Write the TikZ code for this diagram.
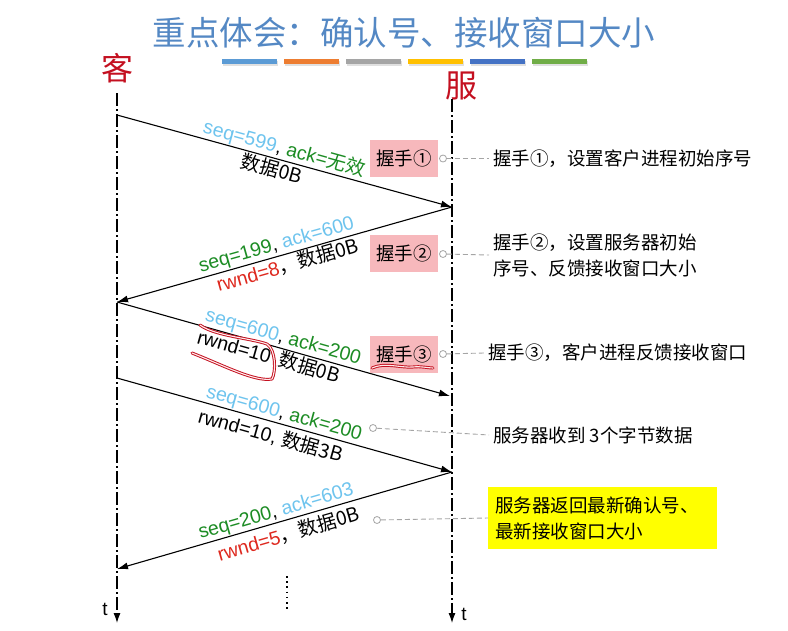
\documentclass[tikz,border=0pt]{standalone}
\usepackage{fontspec}
\setmainfont{Noto Sans CJK SC}
\newfontfamily\lat{Liberation Sans}
\usetikzlibrary{arrows.meta}
\definecolor{titleblue}{RGB}{84,136,196}
\definecolor{seqblue}{RGB}{110,196,238}
\definecolor{ackgreen}{RGB}{28,140,36}
\definecolor{rwndred}{RGB}{222,40,30}
\definecolor{hspink}{RGB}{247,184,188}
\definecolor{hwred}{RGB}{196,16,32}
\definecolor{leadgray}{RGB}{165,165,165}
\definecolor{barA}{RGB}{91,155,213}
\definecolor{barB}{RGB}{237,125,49}
\definecolor{barC}{RGB}{165,165,165}
\definecolor{barD}{RGB}{255,192,0}
\definecolor{barE}{RGB}{68,114,196}
\definecolor{barF}{RGB}{112,173,71}
\definecolor{notey}{RGB}{255,255,0}
\newcommand{\sq}[1]{\textcolor{seqblue}{\lat #1}}
\newcommand{\ak}[1]{\textcolor{ackgreen}{\lat #1}}
\newcommand{\rw}[1]{\textcolor{rwndred}{\lat #1}}
\begin{document}
\begin{tikzpicture}[x=1pt,y=-1pt,
  lifeline/.style={line width=1.1pt, dash pattern=on 13pt off 3pt on 2pt off 3pt, -{Latex[length=10pt,width=7pt]}},
  msg/.style={line width=1.1pt, -{Latex[length=11pt,width=7pt]}},
  lbl/.style={font=\fontsize{19.5}{23}\selectfont, inner sep=1pt, sloped},
  hsbox/.style={fill=hspink, minimum width=68pt, minimum height=37pt, inner sep=0pt, font=\fontsize{18.5}{22}\selectfont},
  circ/.style={circle, draw=leadgray, fill=white, line width=0.8pt, minimum size=7pt, inner sep=0pt},
  leader/.style={draw=leadgray, line width=0.9pt, dash pattern=on 5pt off 3pt},
  side/.style={font=\fontsize{18.5}{26}\selectfont, anchor=west, align=left, inner sep=4pt},
  hand/.style={text=hwred, font=\fontsize{32}{36}\selectfont, inner sep=0pt},
  scrib/.style={draw=hwred, line width=3pt, line cap=round, line join=round, postaction={draw=red!8, line width=1.1pt}},
  tlab/.style={font=\lat\fontsize{19}{21}\selectfont, inner sep=0pt}
]
\fill[white] (0,0) rectangle (788,630);
\useasboundingbox (0,0) rectangle (788,630);

% title
\node[text=titleblue, font=\fontsize{33.5}{40}\selectfont] (title) at (404,33) {重点体会：确认号、接收窗口大小};
% colour bars
\foreach \c [count=\i from 0] in {barA,barB,barC,barD,barE,barF}{
  \fill[black!12] ({223+62*\i},61) rectangle ({278+62*\i},66);
  \fill[\c] ({222+62*\i},59) rectangle ({277+62*\i},64);
}

% handwritten labels
\node[hand] (kehu) at (117,68) {客};
\node[hand] (fuwu) at (461,86) {服};

% lifelines
\coordinate (ctop) at (117,93);
\coordinate (cbot) at (117,623);
\coordinate (stop) at (452,99);
\coordinate (sbot) at (452,623);
\draw[lifeline] (ctop) -- (cbot);
\draw[lifeline] (stop) -- (sbot);
\node[tlab] (tc) at (105,609) {t};
\node[tlab] (ts) at (464,614) {t};

% message end points
\coordinate (c1) at (117,115);
\coordinate (s1) at (452,207);
\coordinate (c2) at (117,302);
\coordinate (s2) at (450,396);
\coordinate (c3) at (117,378);
\coordinate (s3) at (452,472);
\coordinate (c4) at (117,569);

\draw[msg] (c1) -- (s1)
  node[lbl, pos=0.49, above] {\sq{seq=599}{\lat , }\ak{ack=}\textcolor{ackgreen}{无效}}
  node[lbl, pos=0.47, below] {数据0B};
\draw[msg] (s1) -- (c2)
  node[lbl, pos=0.515, above] {\textcolor{ackgreen}{\lat seq=199}{\lat , }\sq{ack=600}}
  node[lbl, pos=0.50, below] {\rw{rwnd=8}，数据0B};
\draw[msg] (c2) -- (s2)
  node[lbl, pos=0.49, above] {\sq{seq=600}{\lat , }\ak{ack=200}}
  node[lbl, pos=0.465, below] {{\lat rwnd=10}\hspace{9pt}数据0B};
\draw[msg] (c3) -- (s3)
  node[lbl, pos=0.49, above] {\sq{seq=600}{\lat , }\ak{ack=200}}
  node[lbl, pos=0.47, below=3pt] {{\lat rwnd=10, }数据3B};
\draw[msg] (s3) -- (c4)
  node[lbl, pos=0.516, above] {\textcolor{ackgreen}{\lat seq=200}{\lat , }\sq{ack=603}}
  node[lbl, pos=0.50, below=3pt] {\rw{rwnd=5}，数据0B};

% continuation dots
\coordinate (v1) at (287,576);
\coordinate (v2) at (287,609);
\draw[line width=1.6pt, dash pattern=on 1.6pt off 3.6pt] (v1) -- (v2);

% handshake boxes
\node[hsbox] (h1) at (404,158.5) {握手①};
\node[hsbox] (h2) at (404,253.5) {握手②};
\node[hsbox] (h3) at (404,354) {握手③};

% side notes
\node[side] (r1) at (489,158.5) {握手①，设置客户进程初始序号};
\node[side] (r2) at (489,255) {握手②，设置服务器初始\\序号、反馈接收窗口大小};
\node[side] (r3) at (484,353) {握手③，客户进程反馈接收窗口};
\node[side] (r4) at (489,435) {服务器收到 3个字节数据};
\node[side, fill=notey, inner xsep=7pt, text width=215pt, minimum height=62pt] (y1) at (488,518) {服务器返回最新确认号、\\最新接收窗口大小};

% markers and leaders
\node[circ] (m1) at (443,158.5) {};
\node[circ] (m2) at (443,254) {};
\node[circ] (m3) at (443,354) {};
\node[circ] (m4) at (373,428) {};
\node[circ] (m5) at (377,520) {};
\draw[leader] (m1) -- (r1.west);
\draw[leader] (m2) -- (r2.west);
\draw[leader] (m3) -- (r3.west);
\draw[leader] (m4) -- (r4.west);
\draw[leader] (m5) -- (y1.west);

% red handwritten marks
\draw[scrib] (200,325) .. controls (215,336) and (250,338) .. (267,344)
  .. controls (276,350) and (276,372) .. (272,379)
  .. controls (255,382) and (225,366) .. (192,353);
\draw[scrib] (372,368) .. controls (385,362) and (400,368) .. (413,367)
  .. controls (421,366) and (428,368) .. (433,368);
\end{tikzpicture}
\end{document}
